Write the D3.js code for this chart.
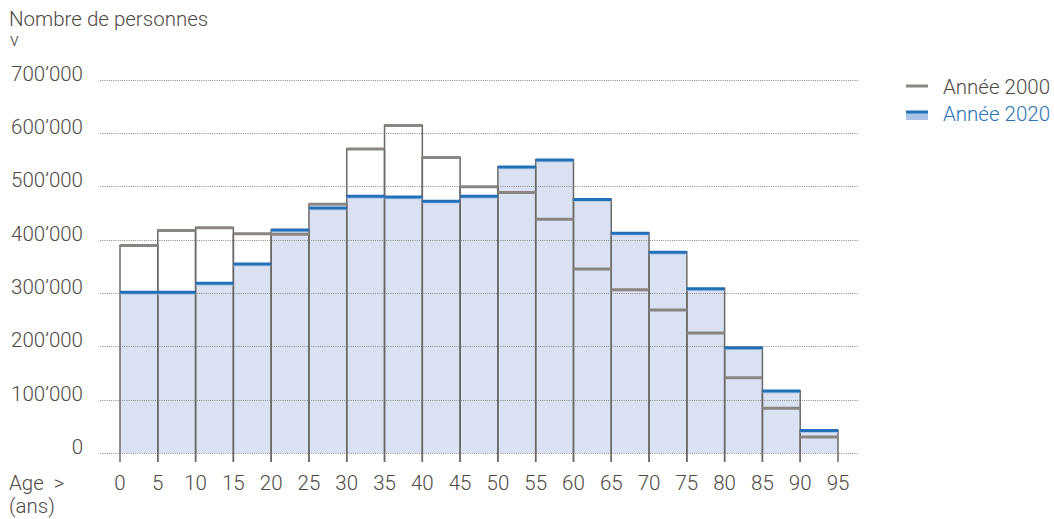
<!DOCTYPE html>
<html><head><meta charset="utf-8">
<script src="https://cdn.jsdelivr.net/npm/d3@7"></script>
<style>
html,body{margin:0;padding:0;background:#fff;}
svg text{font-family:Roboto,"Liberation Sans",sans-serif;font-weight:300;}
</style></head>
<body>
<svg id="chart" width="1054" height="519"></svg>
<script>
const ageStarts = [0,5,10,15,20,25,30,35,40,45,50,55,60,65,70,75,80,85,90];
const xTickLabels = [0,5,10,15,20,25,30,35,40,45,50,55,60,65,70,75,80,85,90,95];
const pop2000 = [391000,419000,424000,413000,412000,468000,572000,616000,556000,501000,490000,440000,347000,308000,270000,227000,143000,86000,32000];
const pop2020 = [303000,303000,320000,356000,420000,461000,483000,482000,474000,483000,538000,551000,477000,414000,378000,310000,199000,118000,44000];
const yTicks = [0,100000,200000,300000,400000,500000,600000,700000];
const seriesNames = ["Année 2000","Année 2020"];

const svg = d3.select("#chart");
const x = d3.scaleLinear().domain([0,95]).range([120,838]);
const y = d3.scaleLinear().domain([0,700000]).range([453,79.6]);
const textCol = "#4e4944", gridCol = "#8a8783", edgeCol = "#6b6865";
const grayTop = "#8a8580", blueTop = "#2170b8", fillCol = "#d9e1f2", lightBlue = "#a9c2e6";
const fs = 20.5;
const fmt = v => v === 0 ? "0" : d3.format(",")(v).replace(/,/g, "\u2019");

// 2020 fills
svg.append("g").selectAll("rect").data(ageStarts).join("rect")
  .attr("x", d => x(d)).attr("width", d => x(d+5) - x(d))
  .attr("y", (d,i) => y(pop2020[i])).attr("height", (d,i) => y(0) - y(pop2020[i]))
  .attr("fill", fillCol);

// gridlines
svg.append("g").selectAll("line").data(yTicks).join("line")
  .attr("x1", 100).attr("x2", 858)
  .attr("y1", d => Math.round(y(d)) + 0.5).attr("y2", d => Math.round(y(d)) + 0.5)
  .attr("stroke", gridCol).attr("stroke-width", 1).attr("stroke-dasharray", "1,1.2");

// y tick labels
svg.append("g").selectAll("text").data(yTicks).join("text")
  .attr("x", 83).attr("y", d => y(d) + 1)
  .attr("text-anchor", "end").attr("font-size", fs).attr("fill", textCol)
  .text(fmt);

// vertical edges
const edges = [];
ageStarts.forEach((a,i) => {
  const top = Math.max(pop2000[i], pop2020[i]);
  edges.push({x: a, top});
  edges.push({x: a+5, top});
});
svg.append("g").selectAll("line").data(edges).join("line")
  .attr("x1", d => x(d.x)).attr("x2", d => x(d.x))
  .attr("y1", y(0) + 9).attr("y2", d => y(d.top))
  .attr("stroke", edgeCol).attr("stroke-width", 1.5);

// 2000 tops
svg.append("g").selectAll("line").data(ageStarts).join("line")
  .attr("x1", d => x(d)).attr("x2", d => x(d+5))
  .attr("y1", (d,i) => y(pop2000[i]) + 1).attr("y2", (d,i) => y(pop2000[i]) + 1)
  .attr("stroke", grayTop).attr("stroke-width", 3);

// 2020 tops
const g20 = svg.append("g");
g20.selectAll("line.lb").data(ageStarts).join("line").attr("class","lb")
  .attr("x1", d => x(d)).attr("x2", d => x(d+5))
  .attr("y1", (d,i) => y(pop2020[i]) + 2.8).attr("y2", (d,i) => y(pop2020[i]) + 2.8)
  .attr("stroke", lightBlue).attr("stroke-width", 1);
g20.selectAll("line.db").data(ageStarts).join("line").attr("class","db")
  .attr("x1", d => x(d)).attr("x2", d => x(d+5))
  .attr("y1", (d,i) => y(pop2020[i]) + 1).attr("y2", (d,i) => y(pop2020[i]) + 1)
  .attr("stroke", blueTop).attr("stroke-width", 3);

// x tick labels
svg.append("g").selectAll("text").data(xTickLabels).join("text")
  .attr("x", d => x(d)).attr("y", 490)
  .attr("text-anchor", "middle").attr("font-size", fs).attr("fill", textCol)
  .text(d => d);

// axis titles
svg.append("text").attr("x", 9).attr("y", 26).attr("font-size", fs).attr("fill", textCol).text("Nombre de personnes");
svg.append("text").attr("x", 10).attr("y", 46).attr("font-size", 18).attr("fill", textCol).text("v");
svg.append("text").attr("x", 9).attr("y", 490).attr("font-size", fs).attr("fill", textCol).text("Age\u00a0\u00a0>");
svg.append("text").attr("x", 9).attr("y", 513).attr("font-size", fs).attr("fill", textCol).text("(ans)");

// legend
const lg = svg.append("g");
lg.append("line").attr("x1", 906).attr("x2", 928).attr("y1", 86).attr("y2", 86).attr("stroke", grayTop).attr("stroke-width", 3);
lg.append("rect").attr("x", 906).attr("y", 112).attr("width", 22).attr("height", 8).attr("fill", lightBlue);
lg.append("line").attr("x1", 906).attr("x2", 928).attr("y1", 112).attr("y2", 112).attr("stroke", blueTop).attr("stroke-width", 3);
lg.append("text").attr("x", 943).attr("y", 94).attr("font-size", fs).attr("fill", textCol).text(seriesNames[0]);
lg.append("text").attr("x", 943).attr("y", 121).attr("font-size", fs).attr("fill", "#2a74b8").text(seriesNames[1]);
</script>
</body></html>
